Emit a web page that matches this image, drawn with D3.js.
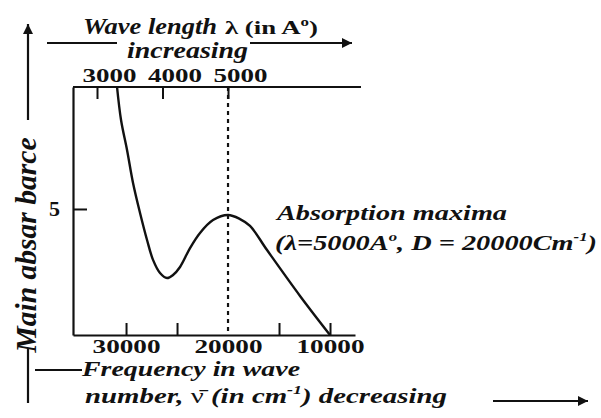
<!DOCTYPE html>
<html><head><meta charset="utf-8">
<script src="https://cdn.jsdelivr.net/npm/d3@7"></script>
<style>
body{margin:0;background:#fff}
svg{display:block}
svg text{fill:#111}
</style>
</head><body><svg id="c" width="601" height="418"></svg>
<script>
// ---- data ----
const waveNumber = [30882, 30490, 29902, 29314, 28627, 27941, 27353, 26667, 25980, 25392, 24706, 23725, 22745, 21471, 20000, 18824, 17843, 16176, 12941, 10000];
const absorbance = [9.84, 8.53, 7.34, 6.03, 4.84, 3.77, 2.98, 2.46, 2.26, 2.38, 2.70, 3.45, 4.05, 4.56, 4.76, 4.60, 4.33, 3.37, 1.55, 0];
const bottomTickValues = [30000, 25000, 20000, 15000, 10000];
const bottomLabelValues = [30000, 20000, 10000];
const topTickValues = [3000, 4000, 5000];
const topTickLabels = ["3000", "4000", "5000"];
const yTickValues = [5];
const peakWaveNumber = 20000;

const FONT = "Liberation Serif";
const svg = d3.select("#c");
const x = d3.scaleLinear().domain([35200, 7550]).range([73, 355]);
const xw = d3.scaleLinear().domain([3000, 5000]).range([97, 228]);
const y = d3.scaleLinear().domain([0, 9.84]).range([335, 87]);

const ink = "#111";
function styleAxis(g){
  g.attr("font-family", FONT);
  g.selectAll("path.domain").attr("stroke", ink).attr("stroke-width", 2.2);
  g.selectAll(".tick line").attr("stroke", ink).attr("stroke-width", 2);
  g.selectAll(".tick text").attr("fill", ink).attr("font-weight", "bold").attr("font-family", FONT);
}

// bottom axis (wave number)
const gb = svg.append("g").attr("transform", "translate(0,335)")
  .call(d3.axisBottom(x).tickValues(bottomTickValues).tickSizeInner(-12).tickSizeOuter(0)
    .tickPadding(6).tickFormat(d => bottomLabelValues.includes(d) ? String(d) : ""));
styleAxis(gb);
gb.selectAll(".tick").filter(d => d === peakWaveNumber).select("line").remove();
gb.selectAll(".tick text").attr("font-size", 19).attr("y", 18).attr("dy", 0)
  .attr("textLength", d => bottomLabelValues.includes(d) ? 68 : null)
  .attr("lengthAdjust", "spacingAndGlyphs");

// left axis
const gl = svg.append("g").attr("transform", "translate(73,0)")
  .call(d3.axisLeft(y).tickValues(yTickValues).tickSizeInner(-14).tickSizeOuter(0).tickPadding(13));
styleAxis(gl);
gl.selectAll(".tick text").attr("font-size", 20).attr("textLength", 11).attr("lengthAdjust", "spacingAndGlyphs");

// top axis (wave length)
svg.append("line").attr("x1", 73).attr("x2", 361).attr("y1", y(9.84)).attr("y2", y(9.84))
  .attr("stroke", ink).attr("stroke-width", 2.2);
const gt = svg.append("g").attr("transform", `translate(0,${y(9.84)})`)
  .call(d3.axisTop(xw).tickValues(topTickValues).tickSizeInner(-12).tickSizeOuter(0)
    .tickPadding(5).tickFormat((d, i) => topTickLabels[i]));
styleAxis(gt);
gt.select("path.domain").remove();
gt.selectAll(".tick text").attr("font-size", 19).attr("dx", 12).attr("y", -5).attr("dy", 0)
  .attr("textLength", 54).attr("lengthAdjust", "spacingAndGlyphs");

// dotted line at the absorption maximum
svg.append("line").attr("x1", x(peakWaveNumber)).attr("x2", x(peakWaveNumber))
  .attr("y1", y(9.84)).attr("y2", y(0))
  .attr("stroke", ink).attr("stroke-width", 2.2).attr("stroke-dasharray", "4,4");

// curve
const pts = waveNumber.map((v, i) => [v, absorbance[i]]);
svg.append("path").datum(pts)
  .attr("fill", "none").attr("stroke", ink).attr("stroke-width", 2.4)
  .attr("d", d3.line().x(d => x(d[0])).y(d => y(d[1])).curve(d3.curveCatmullRom.alpha(0.5)));

// arrows
svg.append("defs").append("marker").attr("id", "ah").attr("viewBox", "0 0 10 10")
  .attr("refX", 10).attr("refY", 5).attr("markerWidth", 12).attr("markerHeight", 10)
  .attr("markerUnits", "userSpaceOnUse").attr("orient", "auto")
  .append("path").attr("d", "M0,0L10,5L0,10Z").attr("fill", ink);
function seg(x1, y1, x2, y2, arrow){
  const l = svg.append("line").attr("x1", x1).attr("y1", y1).attr("x2", x2).attr("y2", y2)
    .attr("stroke", ink).attr("stroke-width", 2.2);
  if (arrow) l.attr("marker-end", "url(#ah)");
}
seg(47, 43, 117, 43, false);
seg(250, 43, 352, 43, true);
seg(28, 120, 28, 24, true);
seg(28, 348, 28, 403, false);
seg(35, 370, 82, 370, false);
seg(493, 401, 588, 401, true);

// texts
function txt(s, xx, yy, size, len, opts = {}){
  const t = svg.append("text").attr("x", xx).attr("y", yy).attr("font-size", size)
    .attr("font-family", FONT)
    .attr("font-weight", opts.weight || "bold").attr("font-style", opts.style || "italic")
    .text(s);
  if (len) t.attr("textLength", len).attr("lengthAdjust", "spacingAndGlyphs");
  return t;
}
txt("Wave length", 83, 34, 23, 134);
const lam = svg.append("text").attr("x", 225).attr("y", 34).attr("font-size", 19).attr("font-family", FONT)
  .attr("font-weight", "bold").attr("textLength", 93).attr("lengthAdjust", "spacingAndGlyphs");
lam.append("tspan").text("λ (in A");
lam.append("tspan").attr("font-size", 12).attr("dy", -8).text("o");
lam.append("tspan").attr("dy", 8).text(")");
txt("increasing", 127, 58, 23, 121);

txt("Frequency in wave", 82, 376, 20, 218);
const nb = svg.append("text").attr("x", 85).attr("y", 403).attr("font-size", 21).attr("font-family", FONT)
  .attr("font-weight", "bold").attr("font-style", "italic").attr("textLength", 362).attr("lengthAdjust", "spacingAndGlyphs");
nb.append("tspan").text("number, ");
nb.append("tspan").attr("font-style", "normal").attr("font-weight", "normal").text("ν\u0304");
nb.append("tspan").text(" (in cm");
nb.append("tspan").attr("font-size", 13).attr("dy", -9).text("-1");
nb.append("tspan").attr("dy", 9).text(") decreasing");

txt("Absorption maxima", 277, 220, 22, 230);
const ab = svg.append("text").attr("x", 275).attr("y", 250).attr("font-size", 22).attr("font-family", FONT)
  .attr("font-weight", "bold").attr("font-style", "italic").attr("textLength", 322).attr("lengthAdjust", "spacingAndGlyphs");
ab.append("tspan").text("(λ=5000A");
ab.append("tspan").attr("font-size", 13).attr("dy", -9).text("o");
ab.append("tspan").attr("dy", 9).text(", D = 20000Cm");
ab.append("tspan").attr("font-size", 13).attr("dy", -9).text("-1");
ab.append("tspan").attr("dy", 9).text(")");

// y label (rotated)
svg.append("text").attr("transform", "translate(36,245) rotate(-90)")
  .attr("text-anchor", "middle").attr("font-size", 29).attr("font-family", FONT)
  .attr("font-weight", "bold").attr("font-style", "italic")
  .attr("textLength", 215).attr("lengthAdjust", "spacingAndGlyphs")
  .text("Main absar barce");
</script></body></html>
